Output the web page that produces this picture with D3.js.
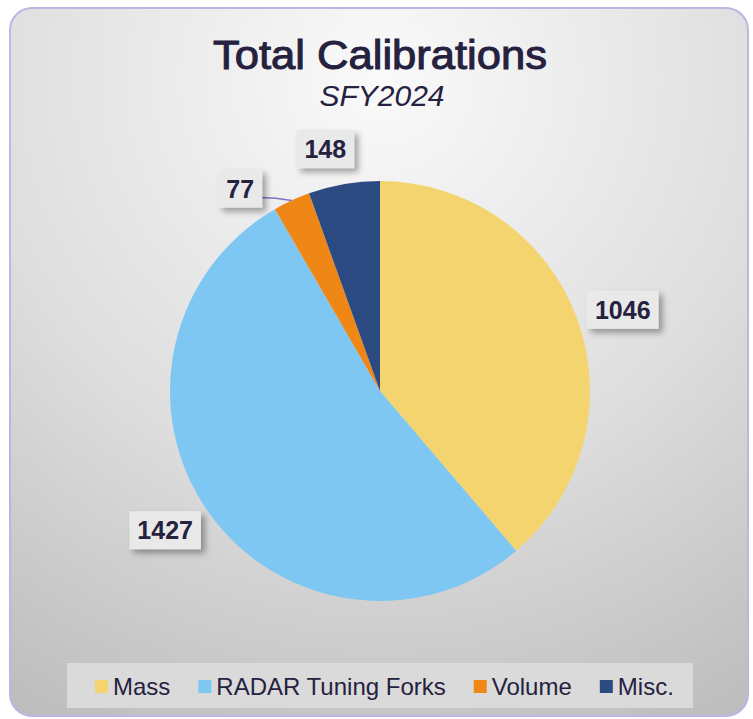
<!DOCTYPE html>
<html>
<head>
<meta charset="utf-8">
<script src="https://cdn.jsdelivr.net/npm/d3@7"></script>
<style>
  body { margin: 0; background: #ffffff; }
  text { font-family: "Liberation Sans", Arial, sans-serif; }
</style>
</head>
<body>
<div id="chart"></div>
<script>
// chart data
var categories = ["Mass", "RADAR Tuning Forks", "Volume", "Misc."];
var values = [1046, 1427, 77, 148];
var colors = ["#F3D46F", "#7FC7F3", "#EE8716", "#2C4A82"];

var width = 753, height = 719;
var cx = 380, cy = 391, radius = 210;
var labelRadius = 256;
var ink = "#25213F";

var svg = d3.select("#chart")
        .append("svg")
        .attr("width", width)
        .attr("height", height);

var defs = svg.append("defs");

var grad = defs.append("radialGradient")
        .attr("id", "bg")
        .attr("gradientUnits", "userSpaceOnUse")
        .attr("cx", 380).attr("cy", 80)
        .attr("r", 720);
grad.append("stop").attr("offset", "0").attr("stop-color", "#fafafa");
grad.append("stop").attr("offset", "0.55").attr("stop-color", "#dedede");
grad.append("stop").attr("offset", "1").attr("stop-color", "#bdbdbd");

var shadow = defs.append("filter")
        .attr("id", "shadow")
        .attr("x", "-30%").attr("y", "-30%")
        .attr("width", "160%").attr("height", "160%");
shadow.append("feDropShadow")
        .attr("dx", 4).attr("dy", 4)
        .attr("stdDeviation", 3)
        .attr("flood-color", "#000")
        .attr("flood-opacity", 0.35);

// frame
svg.append("rect")
        .attr("x", 10).attr("y", 8)
        .attr("width", 738).attr("height", 708)
        .attr("rx", 22)
        .attr("fill", "url(#bg)")
        .attr("stroke", "#bdb5e3")
        .attr("stroke-width", 2);

// titles (medium weight: regular face with a thin stroke)
svg.append("text")
        .attr("x", cx).attr("y", 69)
        .attr("text-anchor", "middle")
        .attr("font-size", 40)
        .attr("fill", ink)
        .attr("stroke", ink)
        .attr("stroke-width", 1)
        .attr("textLength", 334)
        .attr("lengthAdjust", "spacingAndGlyphs")
        .text("Total Calibrations");

svg.append("text")
        .attr("x", cx + 2).attr("y", 106)
        .attr("text-anchor", "middle")
        .attr("font-size", 30)
        .attr("font-style", "italic")
        .attr("fill", ink)
        .text("SFY2024");

// pie
var pie = d3.pie().sort(null).value(function (d) {
    return d;
});
var arcs = pie(values);
var arc = d3.arc().innerRadius(0).outerRadius(radius);

var g = svg.append("g")
        .attr("transform", "translate(" + cx + "," + cy + ")");

g.selectAll("path.slice")
        .data(arcs)
        .enter()
        .append("path")
        .attr("class", "slice")
        .attr("d", arc)
        .attr("fill", function (d, i) {
            return colors[i];
        });

// data labels (small slices pushed a bit off their centre angle, like Excel's best fit)
var angleNudge = [0.03, 0.04, -0.17, -0.05];
var radiusNudge = [0, 0, -10, -8];
function labelPos(d, i) {
    var a = (d.startAngle + d.endAngle) / 2 + angleNudge[i];
    var r = labelRadius + radiusNudge[i];
    return [Math.sin(a) * r, -Math.cos(a) * r];
}

// leader line for the thin Volume slice
var vol = arcs[2];
var va = (vol.startAngle + vol.endAngle) / 2;
var vp = labelPos(vol, 2);
var edge = [Math.sin(va) * radius, -Math.cos(va) * radius];
g.append("path")
        .attr("d", "M" + (vp[0] + 19) + "," + (vp[1] + 9) +
                " Q" + (vp[0] + 36) + "," + (vp[1] + 9) + " " + edge[0] + "," + edge[1])
        .attr("fill", "none")
        .attr("stroke", "#7d72c4")
        .attr("stroke-width", 1.5);

var labels = g.selectAll("g.label")
        .data(arcs)
        .enter()
        .append("g")
        .attr("class", "label")
        .attr("transform", function (d, i) {
            var p = labelPos(d, i);
            return "translate(" + p[0] + "," + p[1] + ")";
        });

labels.append("rect")
        .attr("fill", "#e9e9e9")
        .attr("filter", "url(#shadow)");

labels.append("text")
        .attr("text-anchor", "middle")
        .attr("dy", "0.36em")
        .attr("font-size", 25)
        .attr("font-weight", "bold")
        .attr("fill", ink)
        .text(function (d) {
            return d.data;
        });

labels.each(function () {
    var t = d3.select(this).select("text").node().getBBox();
    d3.select(this).select("rect")
            .attr("x", -t.width / 2 - 8)
            .attr("y", -19)
            .attr("width", t.width + 16)
            .attr("height", 38);
});

// legend
var legend = svg.append("g");
legend.append("rect")
        .attr("x", 67).attr("y", 663)
        .attr("width", 626).attr("height", 45)
        .attr("fill", "#dadada");

var lx = 95;
categories.forEach(function (c, i) {
    legend.append("rect")
            .attr("x", lx).attr("y", 680)
            .attr("width", 13).attr("height", 13)
            .attr("fill", colors[i]);
    var t = legend.append("text")
            .attr("x", lx + 18).attr("y", 695)
            .attr("font-size", 24)
            .attr("fill", ink)
            .text(c);
    lx += 18 + t.node().getComputedTextLength() + 28;
});
</script>
</body>
</html>
